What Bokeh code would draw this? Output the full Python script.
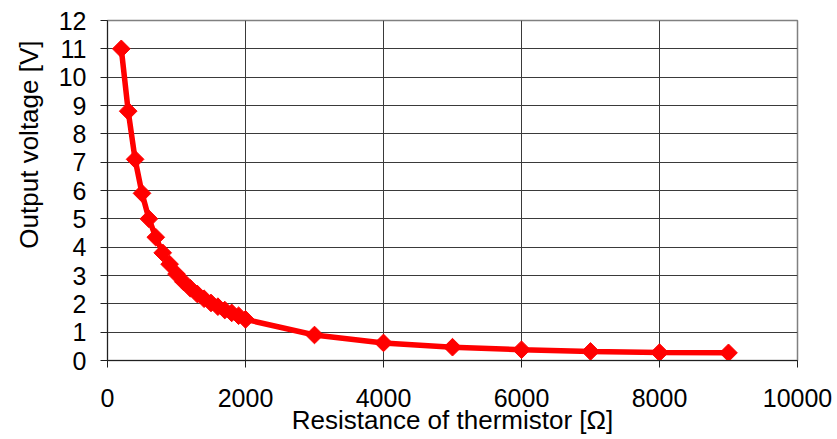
import math
from bokeh.plotting import figure
from bokeh.models import ColumnDataSource, FixedTicker, Range1d, Title
from bokeh.embed import file_html
from bokeh.resources import INLINE

resistance = [200, 300, 400, 500, 600, 700, 800, 900, 1000, 1100, 1200, 1300,
              1400, 1500, 1600, 1700, 1800, 1900, 2000, 3000, 4000, 5000,
              6000, 7000, 8000, 9000]
voltage = [11.0, 8.8, 7.1, 5.9, 5.0, 4.35, 3.8, 3.4, 3.05, 2.78, 2.55, 2.35,
           2.18, 2.03, 1.9, 1.78, 1.68, 1.58, 1.45, 0.9, 0.62, 0.47,
           0.38, 0.32, 0.28, 0.27]
x_ticks = [0, 2000, 4000, 6000, 8000, 10000]
y_ticks = list(range(0, 13))
x_title = "Resistance of thermistor [Ω]"
y_title = "Output voltage [V]"

FONT = "Liberation Sans"

p = figure(width=837, height=439, output_backend="svg", toolbar_location=None,
           x_range=Range1d(0, 10000), y_range=Range1d(0, 12),
           min_border_left=107, min_border_right=40, min_border_top=20,
           min_border_bottom=79)

src = ColumnDataSource(dict(x=resistance, y=voltage))
p.line("x", "y", source=src, line_color="#FF0000", line_width=5.5)
p.scatter("x", "y", source=src, marker="square", angle=math.pi / 4, size=12.5,
          fill_color="#FF0000", line_color="#FF0000")

p.xaxis.ticker = FixedTicker(ticks=x_ticks)
p.yaxis.ticker = FixedTicker(ticks=y_ticks)
p.xgrid.ticker = FixedTicker(ticks=x_ticks)
p.ygrid.ticker = FixedTicker(ticks=y_ticks)

for g in (p.xgrid, p.ygrid):
    g.grid_line_color = "#3a3a3a"
    g.grid_line_width = 1

p.outline_line_color = "#808080"
p.outline_line_width = 1.5

for ax in (p.xaxis, p.yaxis):
    ax.axis_line_color = "#202020"
    ax.major_tick_line_color = "#202020"
    ax.major_tick_out = 7
    ax.major_tick_in = 0
    ax.minor_tick_line_color = None
    ax.major_label_text_font = FONT
    ax.major_label_text_font_size = "25px"
    ax.major_label_text_color = "#000000"
    ax.axis_label_text_font = FONT
    ax.axis_label_text_font_size = "26px"
    ax.axis_label_text_font_style = "normal"
    ax.axis_label_text_color = "#000000"

p.xaxis.axis_label = x_title
p.xaxis.major_label_standoff = 21
p.yaxis.major_label_standoff = 14
p.xaxis.axis_label_standoff = -5

ytitle = Title(text=y_title, align="right", offset=20, standoff=23,
               text_font=FONT, text_font_size="26px", text_font_style="normal",
               text_color="#000000")
p.add_layout(ytitle, "left")

open("out.html", "w").write(file_html(p, INLINE))
